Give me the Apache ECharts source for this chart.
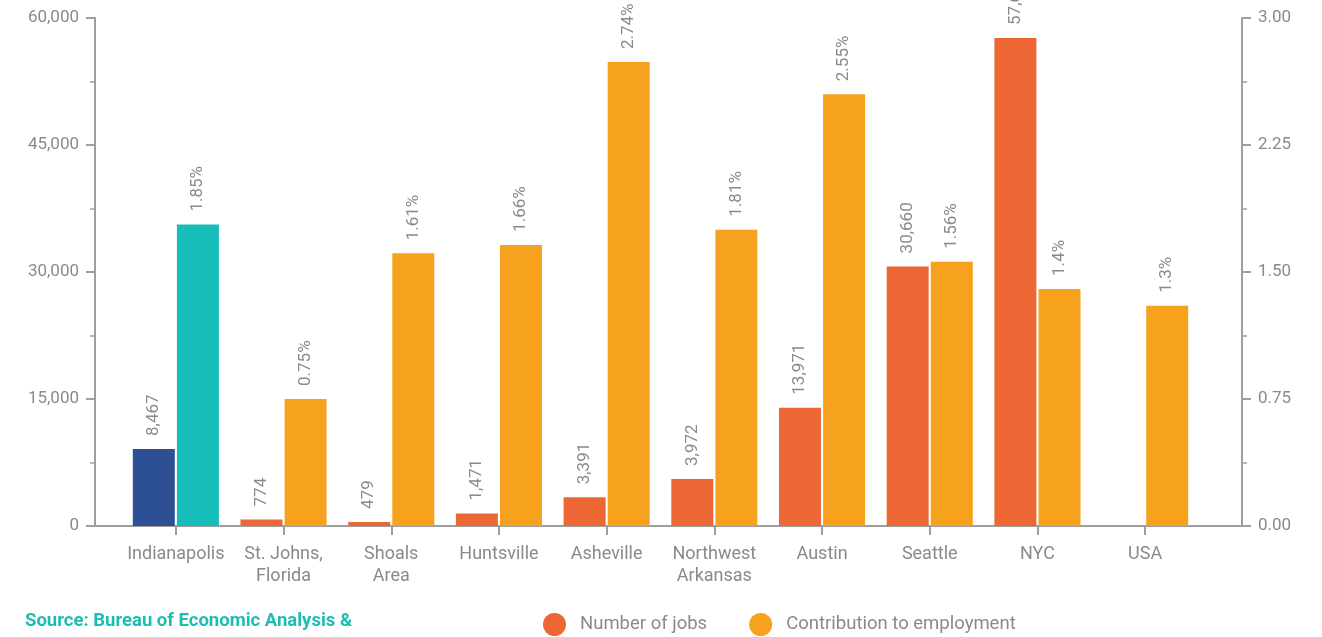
<!DOCTYPE html>
<html>
<head>
<meta charset="utf-8">
<script src="https://cdn.jsdelivr.net/npm/echarts@6/dist/echarts.min.js"></script>
<style>
html,body{margin:0;padding:0;background:#fff;}
#chart{width:1322px;height:637px;}
</style>
</head>
<body>
<div id="chart"></div>
<script>
var categories = ['Indianapolis', 'St. Johns,\nFlorida', 'Shoals\nArea', 'Huntsville', 'Asheville', 'Northwest\nArkansas', 'Austin', 'Seattle', 'NYC', 'USA'];
var jobs = [9100, 774, 479, 1471, 3391, 5550, 13971, 30660, 57640, null];
var jobsLabels = ['8,467', '774', '479', '1,471', '3,391', '3,972', '13,971', '30,660', '57,640', ''];
var contribution = [1.78, 0.75, 1.61, 1.66, 2.74, 1.75, 2.55, 1.56, 1.4, 1.3];
var contributionLabels = ['1.85%', '0.75%', '1.61%', '1.66%', '2.74%', '1.81%', '2.55%', '1.56%', '1.4%', '1.3%'];
var leftTicks = [0, 15000, 30000, 45000, 60000];
var rightTicks = [0, 0.75, 1.5, 2.25, 3];
var highlightIndex = 0;

var C_JOBS = '#EC6733', C_CONT = '#F7A21F', C_HJOBS = '#2D4F94', C_HCONT = '#17BDB8';
var GRAY = '#8A8A8A', AXIS = '#9E9E9E', FONT = 'Roboto, "Noto Sans", sans-serif';

var chart = echarts.init(document.getElementById('chart'));

function barData(vals, hi) {
  return vals.map(function (v, i) {
    return i === highlightIndex ? { value: v, itemStyle: { color: hi } } : v;
  });
}
var labelBase = {
  show: true, position: 'top', rotate: 90, align: 'left', verticalAlign: 'middle',
  distance: 13, color: GRAY, fontSize: 17, fontFamily: FONT
};

chart.setOption({
  animation: false,
  title: {
    text: 'Source: Bureau of Economic Analysis &',
    left: 25, top: 612, padding: 0,
    textStyle: { color: '#1DBDB5', fontSize: 18.5, fontWeight: 'bold', fontFamily: FONT }
  },
  legend: {
    left: 543, top: 613, padding: 0,
    icon: 'circle', itemWidth: 23, itemHeight: 23, itemGap: 42,
    textStyle: { color: GRAY, fontSize: 18.5, fontFamily: FONT, padding: [0, 0, 0, 9] },
    data: ['Number of jobs', 'Contribution to employment']
  },
  grid: [
    { left: 95, right: 80, top: 18, bottom: 111 },
    { left: 122, right: 123, top: 18, bottom: 111 }
  ],
  xAxis: [
    { gridIndex: 0, type: 'value', min: 0, max: 1,
      axisLine: { show: true, lineStyle: { color: AXIS, width: 2 } },
      axisTick: { show: false }, axisLabel: { show: false }, splitLine: { show: false } },
    { gridIndex: 1, type: 'category', data: categories,
      axisLine: { show: false },
      axisTick: { show: true, alignWithLabel: true, length: 9, lineStyle: { color: AXIS, width: 2 } },
      axisLabel: { color: GRAY, fontSize: 18, fontFamily: FONT, margin: 17, lineHeight: 22, interval: 0 } }
  ],
  yAxis: [
    { gridIndex: 0, type: 'value', position: 'left', min: 0, max: 60000, interval: 15000,
      axisLine: { show: true, lineStyle: { color: AXIS, width: 2 } },
      axisTick: { show: true, length: 9, lineStyle: { color: AXIS, width: 2 } },
      minorTick: { show: true, splitNumber: 2, length: 5, lineStyle: { color: AXIS, width: 1.5 } },
      splitLine: { show: false },
      axisLabel: { color: GRAY, fontSize: 17, fontFamily: FONT, margin: 16,
        formatter: function (v) { return v.toLocaleString('en-US'); } } },
    { gridIndex: 0, type: 'value', position: 'right', min: 0, max: 3, interval: 0.75,
      axisLine: { show: true, lineStyle: { color: AXIS, width: 2 } },
      axisTick: { show: true, length: 9, lineStyle: { color: AXIS, width: 2 } },
      minorTick: { show: true, splitNumber: 2, length: 5, lineStyle: { color: AXIS, width: 1.5 } },
      splitLine: { show: false },
      axisLabel: { color: GRAY, fontSize: 17, fontFamily: FONT, margin: 16,
        formatter: function (v) { return v.toFixed(2); } } },
    { gridIndex: 1, type: 'value', min: 0, max: 60000, show: false, splitLine: { show: false } },
    { gridIndex: 1, type: 'value', min: 0, max: 3, show: false, splitLine: { show: false } }
  ],
  series: [
    { name: 'Number of jobs', type: 'bar', xAxisIndex: 1, yAxisIndex: 2,
      data: barData(jobs, C_HJOBS), barWidth: 42, barGap: '5%',
      itemStyle: { color: C_JOBS },
      label: Object.assign({}, labelBase, { formatter: function (p) { return jobsLabels[p.dataIndex]; } }) },
    { name: 'Contribution to employment', type: 'bar', xAxisIndex: 1, yAxisIndex: 3,
      data: barData(contribution, C_HCONT), barWidth: 42, barGap: '5%',
      itemStyle: { color: C_CONT },
      label: Object.assign({}, labelBase, { formatter: function (p) { return contributionLabels[p.dataIndex]; } }) }
  ]
});
</script>
</body>
</html>
